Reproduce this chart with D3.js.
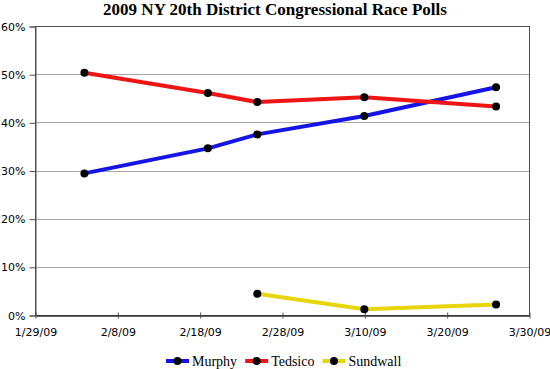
<!DOCTYPE html>
<html><head><meta charset="utf-8">
<script src="https://cdn.jsdelivr.net/npm/d3@7"></script>
<style>body{margin:0;background:#fff}svg{display:block}</style>
</head><body>
<svg id="c" width="550" height="369"></svg>
<script>
const pollDates = ["2009-02-04","2009-02-19","2009-02-25","2009-03-10","2009-03-26"];
const murphy = [29.4, 34.6, 37.5, 41.3, 47.3];
const tedsico = [50.3, 46.1, 44.2, 45.2, 43.3];
const sundwallDates = ["2009-02-25","2009-03-10","2009-03-26"];
const sundwall = [4.4, 1.2, 2.2];
const xTickDates = ["2009-01-29","2009-02-08","2009-02-18","2009-02-28","2009-03-10","2009-03-20","2009-03-30"];
const yTicks = [0,10,20,30,40,50,60];
const seriesNames = ["Murphy","Tedsico","Sundwall"];
const seriesColors = ["#1414e6","#f01414","#e8d60c"];
const title = "2009 NY 20th District Congressional Race Polls";

const parse = d3.utcParse("%Y-%m-%d");
const svg = d3.select("#c");
const L=35, R=529, T=26, B=315;
const x = d3.scaleUtc().domain([parse("2009-01-29"), parse("2009-03-30")]).range([L,R]);
const y = d3.scaleLinear().domain([0,60]).range([B,T]);

svg.append("text").attr("x",275).attr("y",15).attr("text-anchor","middle")
  .attr("font-family","Liberation Serif").attr("font-weight","bold").attr("font-size",17)
  .text(title);

// gridlines
svg.append("g").selectAll("line").data(yTicks.filter(d=>d>0&&d<60)).join("line")
  .attr("x1",L).attr("x2",R).attr("y1",d=>Math.round(y(d))+0.5).attr("y2",d=>Math.round(y(d))+0.5)
  .attr("stroke","#a8a8a8").attr("stroke-width",1);

// border
svg.append("rect").attr("x",L+0.5).attr("y",T+0.5).attr("width",R-L).attr("height",B-T)
  .attr("fill","none").attr("stroke","#505050").attr("stroke-width",1);

// y axis
const yAxis = d3.axisLeft(y).tickValues(yTicks).tickFormat(d=>d+"%").tickSize(6).tickPadding(4);
const gy = svg.append("g").attr("transform",`translate(${L+0.5},0.5)`).call(yAxis);
gy.select(".domain").attr("stroke","#505050");
gy.selectAll(".tick line").attr("stroke","#505050");
gy.selectAll("text").attr("font-family","DejaVu Sans").attr("font-size",11).attr("fill","#000");

// x axis
const xAxis = d3.axisBottom(x).tickValues(xTickDates.map(parse)).tickFormat(d3.utcFormat("%-m/%-d/%y")).tickSizeInner(3).tickSizeOuter(0).tickPadding(10);
const gx = svg.append("g").attr("transform",`translate(0.5,${B+0.5})`).call(xAxis);
gx.select(".domain").attr("stroke","#303030").attr("stroke-width",1.5);
gx.selectAll(".tick line").attr("y1",-3).attr("y2",3).attr("stroke","#505050");
gx.selectAll("text").attr("font-family","DejaVu Sans").attr("font-size",11).attr("fill","#000");

// series
const series = [
  {name:seriesNames[0], color:seriesColors[0], pts: pollDates.map((d,i)=>({d:parse(d),v:murphy[i]}))},
  {name:seriesNames[1], color:seriesColors[1], pts: pollDates.map((d,i)=>({d:parse(d),v:tedsico[i]}))},
  {name:seriesNames[2], color:seriesColors[2], pts: sundwallDates.map((d,i)=>({d:parse(d),v:sundwall[i]}))}
];
const line = d3.line().x(p=>x(p.d)).y(p=>y(p.v));
series.forEach(s=>{
  svg.append("path").datum(s.pts).attr("d",line).attr("fill","none")
    .attr("stroke",s.color).attr("stroke-width",4).attr("stroke-linejoin","round");
});
series.forEach(s=>{
  svg.append("g").selectAll("circle").data(s.pts).join("circle")
    .attr("cx",p=>x(p.d)).attr("cy",p=>y(p.v)).attr("r",4).attr("fill","#000");
});

// legend
const lg = svg.append("g").attr("transform","translate(166,0)");
let lx = 0;
series.forEach(s=>{
  const g = lg.append("g").attr("transform",`translate(${lx},0)`);
  g.append("line").attr("x1",0).attr("x2",23).attr("y1",361).attr("y2",361).attr("stroke",s.color).attr("stroke-width",4);
  g.append("circle").attr("cx",11.5).attr("cy",361).attr("r",4).attr("fill","#000");
  const t = g.append("text").attr("x",26).attr("y",366).attr("font-family","Liberation Serif").attr("font-size",14).text(s.name);
  lx += 26 + t.node().getComputedTextLength() + 8;
});
</script>
</body></html>
